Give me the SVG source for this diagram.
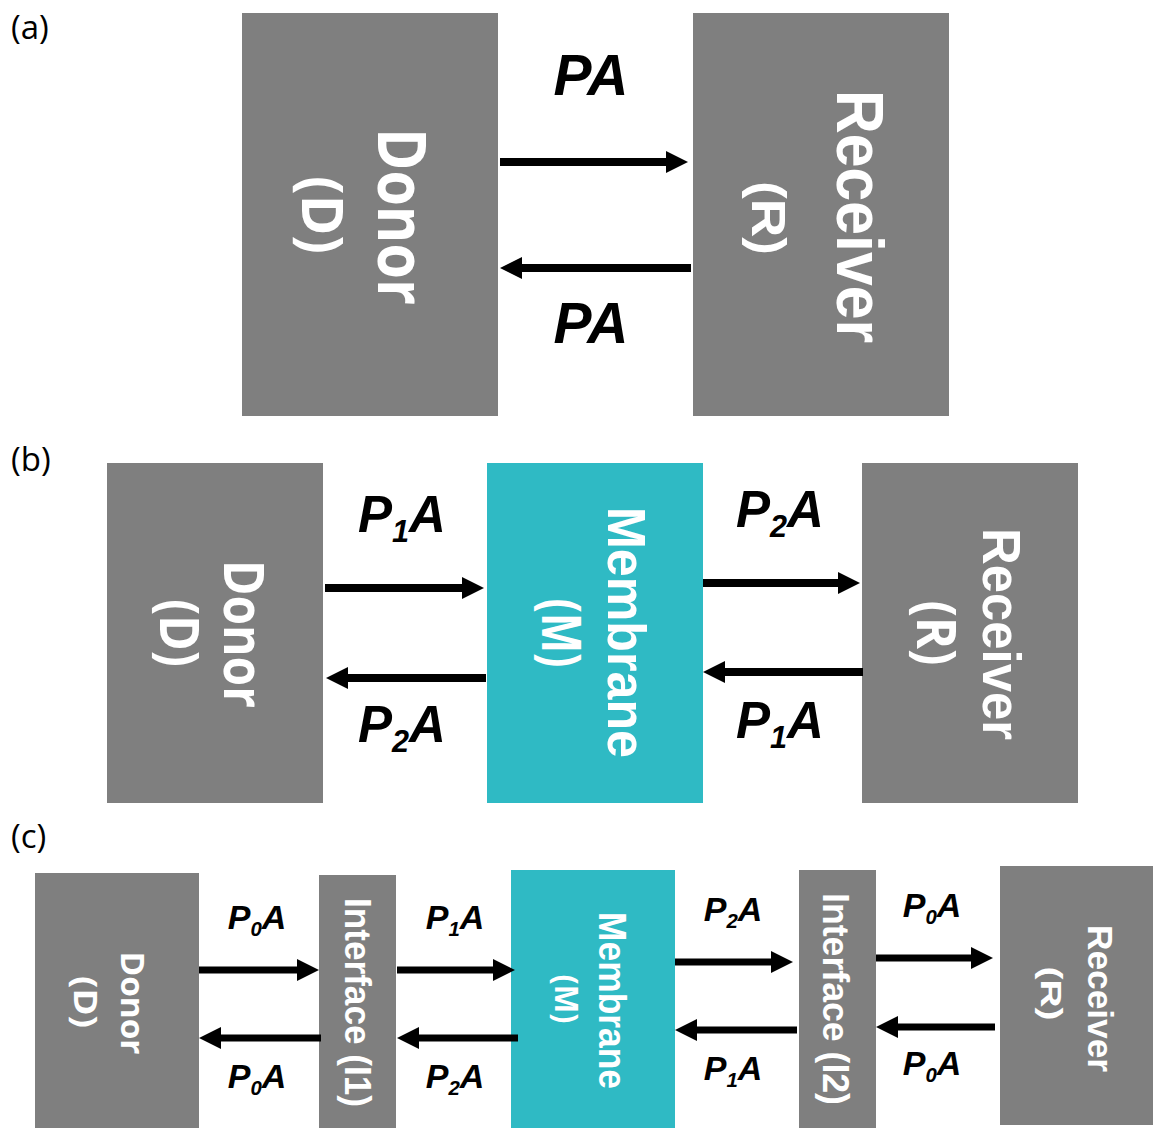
<svg xmlns="http://www.w3.org/2000/svg" width="1153" height="1128" viewBox="0 0 1153 1128">
  <style>
    .gray { fill: #7f7f7f; }
    .teal { fill: #2fbac4; }
    .panel { font-family: "Open Sans", "DejaVu Sans", sans-serif; font-size: 33px; fill: #000; }
    .seg { font-family: "Open Sans", "Noto Sans", sans-serif; fill: #fff; text-anchor: middle; font-weight: bold; }
    .ari { font-family: "Liberation Sans", Arial, sans-serif; fill: #fff; text-anchor: middle; font-weight: bold; }
    .flux { font-family: "Liberation Sans", Arial, sans-serif; font-weight: bold; font-style: italic; fill: #000; text-anchor: middle; }
    .sub { font-size: 60%; }
    .arr { stroke: #000; fill: none; marker-end: url(#head); }
  </style>
  <defs>
    <marker id="head" markerUnits="userSpaceOnUse" markerWidth="22" markerHeight="22" refX="10" refY="11" orient="auto" overflow="visible">
      <path d="M0,0 L22,11 L0,22 z" fill="#000"/>
    </marker>
  </defs>

  <rect width="1153" height="1128" fill="#fff"/>

  <!-- panel letters -->
  <text class="panel" x="11" y="39">(a)</text>
  <text class="panel" x="11" y="471">(b)</text>
  <text class="panel" x="11" y="848">(c)</text>

  <!-- (a) two-compartment -->
  <g id="a-donor">
    <rect class="gray" x="242" y="13" width="256" height="403"/>
    <text class="seg" font-size="66" textLength="177" lengthAdjust="spacingAndGlyphs" transform="translate(378 216.5) rotate(90)">Donor</text>
    <text class="seg" font-size="57" textLength="78" lengthAdjust="spacingAndGlyphs" transform="translate(302 215) rotate(90)">(D)</text>
  </g>
  <g id="a-receiver">
    <rect class="gray" x="693" y="13" width="256" height="403"/>
    <text class="ari" font-size="66" textLength="253" lengthAdjust="spacingAndGlyphs" transform="translate(837 216.5) rotate(90)">Receiver</text>
    <text class="ari" font-size="48" textLength="74" lengthAdjust="spacingAndGlyphs" transform="translate(752 218) rotate(90)">(R)</text>
  </g>

  <!-- (b) three-compartment -->
  <g id="b-donor">
    <rect class="gray" x="107" y="463" width="216" height="340"/>
    <text class="seg" font-size="55" textLength="148" lengthAdjust="spacingAndGlyphs" transform="translate(224 634) rotate(90)">Donor</text>
    <text class="seg" font-size="53" textLength="68" lengthAdjust="spacingAndGlyphs" transform="translate(160 633) rotate(90)">(D)</text>
  </g>
  <g id="b-membrane">
    <rect class="teal" x="487" y="463" width="216" height="340"/>
    <text class="ari" font-size="54" textLength="251" lengthAdjust="spacingAndGlyphs" transform="translate(608 632.5) rotate(90)">Membrane</text>
    <text class="seg" font-size="53" textLength="69" lengthAdjust="spacingAndGlyphs" transform="translate(542 633) rotate(90)">(M)</text>
  </g>
  <g id="b-receiver">
    <rect class="gray" x="862" y="463" width="216" height="340"/>
    <text class="ari" font-size="54" textLength="212" lengthAdjust="spacingAndGlyphs" transform="translate(983 634) rotate(90)">Receiver</text>
    <text class="seg" font-size="53" textLength="65" lengthAdjust="spacingAndGlyphs" transform="translate(917 633) rotate(90)">(R)</text>
  </g>

  <!-- (c) five-compartment -->
  <g id="c-donor">
    <rect class="gray" x="35" y="873" width="164" height="255"/>
    <text class="seg" font-size="33" textLength="103" lengthAdjust="spacingAndGlyphs" transform="translate(121 1003) rotate(90)">Donor</text>
    <text class="seg" font-size="33" textLength="52" lengthAdjust="spacingAndGlyphs" transform="translate(74 1002) rotate(90)">(D)</text>
  </g>
  <g id="c-interface1">
    <rect class="gray" x="319" y="875" width="77" height="253"/>
    <text class="ari" font-size="37" textLength="209" lengthAdjust="spacingAndGlyphs" transform="translate(345 1002.5) rotate(90)">Interface (I1)</text>
  </g>
  <g id="c-membrane">
    <rect class="teal" x="511" y="870" width="164" height="258"/>
    <text class="ari" font-size="38" textLength="177" lengthAdjust="spacingAndGlyphs" transform="translate(599 1000.5) rotate(90)">Membrane</text>
    <text class="seg" font-size="33" textLength="49" lengthAdjust="spacingAndGlyphs" transform="translate(555 999) rotate(90)">(M)</text>
  </g>
  <g id="c-interface2">
    <rect class="gray" x="799" y="870" width="77" height="258"/>
    <text class="ari" font-size="36" textLength="212" lengthAdjust="spacingAndGlyphs" transform="translate(823 999) rotate(90)">Interface (I2)</text>
  </g>
  <g id="c-receiver">
    <rect class="gray" x="1000" y="866" width="153" height="259"/>
    <text class="ari" font-size="35" textLength="147" lengthAdjust="spacingAndGlyphs" transform="translate(1088 998.5) rotate(90)">Receiver</text>
    <text class="ari" font-size="30" textLength="54" lengthAdjust="spacingAndGlyphs" transform="translate(1041 993.5) rotate(90)">(R)</text>
  </g>

  <!-- connectors -->
  <g id="connectors">
    <g stroke-width="8">
      <path class="arr" d="M500,162 H676"/>
      <path class="arr" d="M691,268 H512"/>
      <path class="arr" d="M325,588 H472"/>
      <path class="arr" d="M486,678 H338"/>
      <path class="arr" d="M703,583 H848"/>
      <path class="arr" d="M863,672 H715"/>
    </g>
    <g stroke-width="7">
      <path class="arr" d="M199,970 H307"/>
      <path class="arr" d="M321,1038 H211"/>
      <path class="arr" d="M397,970 H503"/>
      <path class="arr" d="M518,1038 H409"/>
      <path class="arr" d="M675,962 H781"/>
      <path class="arr" d="M797,1030 H687"/>
      <path class="arr" d="M876,958 H981"/>
      <path class="arr" d="M995,1027 H888"/>
    </g>
  </g>

  <!-- rate labels -->
  <g id="labels">
    <text class="flux" font-size="57" x="591" y="95">PA</text>
    <text class="flux" font-size="57" x="591" y="343">PA</text>

    <text class="flux" font-size="51" x="402" y="532">P<tspan class="sub" dy="10">1</tspan><tspan dy="-10">A</tspan></text>
    <text class="flux" font-size="51" x="402" y="742">P<tspan class="sub" dy="10">2</tspan><tspan dy="-10">A</tspan></text>
    <text class="flux" font-size="51" x="780" y="527">P<tspan class="sub" dy="10">2</tspan><tspan dy="-10">A</tspan></text>
    <text class="flux" font-size="51" x="780" y="738">P<tspan class="sub" dy="10">1</tspan><tspan dy="-10">A</tspan></text>

    <text class="flux" font-size="34" x="257" y="929">P<tspan class="sub" dy="7">0</tspan><tspan dy="-7">A</tspan></text>
    <text class="flux" font-size="34" x="257" y="1088">P<tspan class="sub" dy="7">0</tspan><tspan dy="-7">A</tspan></text>
    <text class="flux" font-size="34" x="455" y="929">P<tspan class="sub" dy="7">1</tspan><tspan dy="-7">A</tspan></text>
    <text class="flux" font-size="34" x="455" y="1088">P<tspan class="sub" dy="7">2</tspan><tspan dy="-7">A</tspan></text>
    <text class="flux" font-size="34" x="733" y="921">P<tspan class="sub" dy="7">2</tspan><tspan dy="-7">A</tspan></text>
    <text class="flux" font-size="34" x="733" y="1080">P<tspan class="sub" dy="7">1</tspan><tspan dy="-7">A</tspan></text>
    <text class="flux" font-size="34" x="932" y="917">P<tspan class="sub" dy="7">0</tspan><tspan dy="-7">A</tspan></text>
    <text class="flux" font-size="34" x="932" y="1075">P<tspan class="sub" dy="7">0</tspan><tspan dy="-7">A</tspan></text>
  </g>
</svg>
